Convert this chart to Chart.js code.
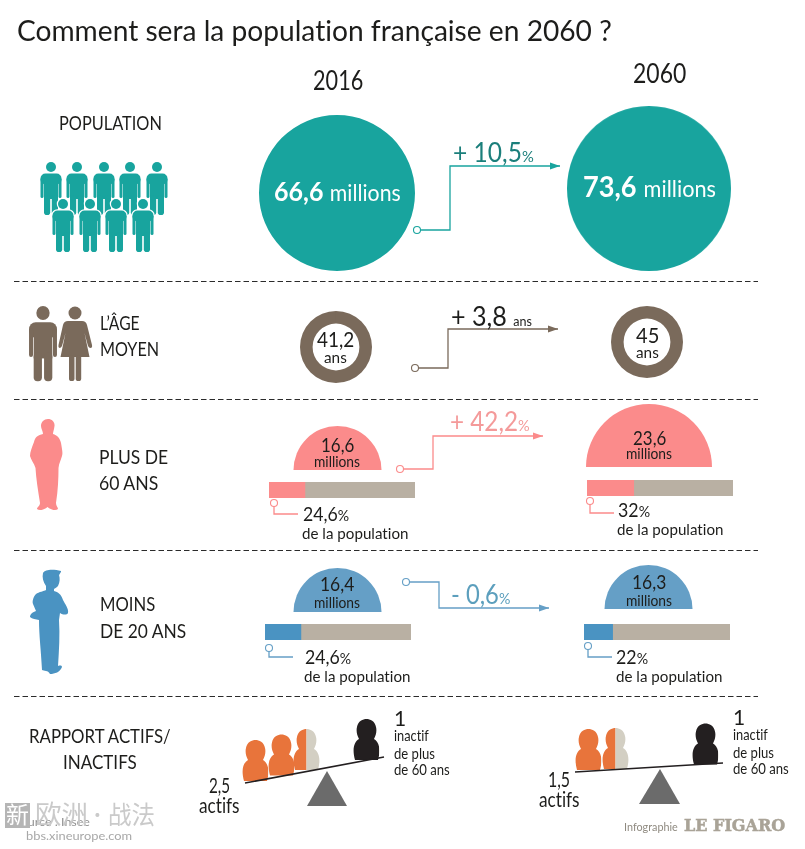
<!DOCTYPE html>
<html lang="fr">
<head>
<meta charset="utf-8">
<title>Comment sera la population française en 2060 ?</title>
<script src="https://cdn.jsdelivr.net/npm/chart.js@4"></script>
<style>
    html, body { margin: 0; padding: 0; background: #fff; }
    #page { position: relative; width: 805px; height: 849px; overflow: hidden; font-family: Lato, sans-serif; color: #1d1d1b; font-variant-ligatures: none; }
    #page canvas { position: absolute; }
    #page svg { position: absolute; left: 0; top: 0; }
    .t { position: absolute; white-space: nowrap; line-height: 1; transform-origin: left center; z-index: 5; }
    .t small { font-size: 0.6em; }
</style>
</head>
<body>
<div id="page"></div>
<script>
// ─── Data ─────────────────────────────────────────────────
const years = ['2016', '2060'];
const populationMillions = [66.6, 73.6];
const populationChange = 10.5;
const medianAge = [41.2, 45];
const medianAgeChange = 3.8;
const over60Millions = [16.6, 23.6];
const over60Share = [24.6, 32];
const over60Change = 42.2;
const under20Millions = [16.4, 16.3];
const under20Share = [24.6, 22];
const under20BarLength = [24.6, 19.6];   // longueur réellement dessinée sur l'infographie
const under20Change = -0.6;
const activesPerInactive = [2.5, 1.5];
const inactives = [1, 1];

const C = {
    teal: '#18a49e', tealDark: '#1b7f7b', brown: '#7a6a5b', pink: '#fb8b8b', pinkText: '#f49a9a',
    blue: '#659fc6', blueBar: '#4a93c2', blueText: '#5c9fbd', beige: '#b9b0a3',
    orange: '#e8743b', ghost: '#d3cfc3', ink: '#231f20', grey: '#6b6b6b'
};

const page = document.getElementById('page');
const num = (v) => String(v).replace('.', ',');

// ─── Helpers ──────────────────────────────────────────────
function addText(html, x, y, size, o = {}) {
    const el = document.createElement('div');
    el.className = 't';
    el.innerHTML = html;
    el.style.fontSize = size + 'px';
    el.style.top = (y - size * 0.57) + 'px';
    el.style.color = o.color || '#1d1d1b';
    if (o.font) el.style.fontFamily = o.font;
    if (o.weight) el.style.fontWeight = o.weight;
    page.appendChild(el);
    let width = el.offsetWidth;
    if (o.w) {
        el.style.transform = `scaleX(${o.w / width})`;
        width = o.w;
    }
    el.style.left = (o.center ? x - width / 2 : x) + 'px';
    return el;
}

function addCanvas(x, y, w, h) {
    const c = document.createElement('canvas');
    c.width = w; c.height = h;
    c.style.left = x + 'px'; c.style.top = y + 'px';
    c.style.width = w + 'px'; c.style.height = h + 'px';
    page.appendChild(c);
    return c;
}

const baseOptions = {
    responsive: false,
    animation: false,
    layout: { padding: 0 },
    plugins: { legend: { display: false }, tooltip: { enabled: false } }
};

function disc(value, cx, cy, r, color, cutout) {
    new Chart(addCanvas(cx - r, cy - r, r * 2, r * 2), {
        type: 'doughnut',
        data: { labels: ['valeur'], datasets: [{ data: [value], backgroundColor: color, borderWidth: 0 }] },
        options: { ...baseOptions, cutout: cutout || 0 }
    });
}

function dome(value, cx, base, r, color) {
    new Chart(addCanvas(cx - r, base - r, r * 2, r), {
        type: 'doughnut',
        data: { labels: ['valeur'], datasets: [{ data: [value], backgroundColor: color, borderWidth: 0 }] },
        options: { ...baseOptions, cutout: 0, rotation: -90, circumference: 180 }
    });
}

function shareBar(share, x, y, color) {
    new Chart(addCanvas(x, y, 146, 16), {
        type: 'bar',
        data: {
            labels: ['population'],
            datasets: [
                { data: [share], backgroundColor: color, borderWidth: 0, barPercentage: 1, categoryPercentage: 1 },
                { data: [100 - share], backgroundColor: C.beige, borderWidth: 0, barPercentage: 1, categoryPercentage: 1 }
            ]
        },
        options: {
            ...baseOptions,
            indexAxis: 'y',
            scales: {
                x: { display: false, stacked: true, min: 0, max: 100 },
                y: { display: false, stacked: true }
            }
        }
    });
}

// ─── Charts ───────────────────────────────────────────────
const popRadius = (v) => 9.56 * Math.sqrt(v);
disc(populationMillions[0], 337, 193, popRadius(populationMillions[0]), C.teal);
disc(populationMillions[1], 649, 188.5, popRadius(populationMillions[1]), C.teal);

disc(medianAge[0], 335.5, 346.5, 36, C.brown, '65%');
disc(medianAge[1], 646.5, 341.5, 36, C.brown, '65%');

dome(over60Millions[0], 337.5, 470, 44.5, C.pink);
dome(over60Millions[1], 649, 467, 63, C.pink);
dome(under20Millions[0], 337.5, 612, 44.5, C.blue);
dome(under20Millions[1], 648.5, 609, 44.5, C.blue);

shareBar(over60Share[0], 269, 482, C.pink);
shareBar(over60Share[1], 587, 480, C.pink);
shareBar(under20BarLength[0], 265, 624, C.blueBar);
shareBar(under20BarLength[1], 584, 624, C.blueBar);

// ─── Pictos, séparateurs et flèches ───────────────────────
function man(x, y, k, kx, fill) {
    return `<g transform="translate(${x} ${y}) scale(${kx} ${k})" fill="${fill}">
        <circle r="5"/>
        <rect x="-10.5" y="6.5" width="21" height="11" rx="5"/>
        <rect x="-7" y="8" width="14" height="24"/>
        <rect x="-10.5" y="11" width="3" height="20" rx="1.5"/>
        <rect x="7.5" y="11" width="3" height="20" rx="1.5"/>
        <rect x="-7" y="28" width="6.2" height="20" rx="2.8"/>
        <rect x="0.8" y="28" width="6.2" height="20" rx="2.8"/>
    </g>`;
}

function elbow(points, color, head) {
    let s = `<polyline points="${points.map(p => p.join(',')).join(' ')}" fill="none" stroke="${color}" stroke-width="1.3"/>`;
    const [cx, cy] = points[0];
    s += `<circle cx="${cx}" cy="${cy}" r="3.5" fill="#fff" stroke="${color}" stroke-width="1.1"/>`;
    if (head) {
        const [hx, hy] = points[points.length - 1];
        s += `<polygon points="${hx - 10},${hy - 3.5} ${hx},${hy} ${hx - 10},${hy + 3.5}" fill="${color}"/>`;
    }
    return s;
}

function blob(x, bottom, fraction, fill, id) {
    const shape = `M1,41 C-2,30 0,23 5,20 C3,16 2,12 3,8 C4,2 9,0 12.5,0 C16,0 21,2 22,8 C23,12 22,16 20,20 C25,23 27,30 24,41 Z`;
    const split = 25 * fraction;
    return `<g transform="translate(${x} ${bottom - 41})">
        <clipPath id="${id}a"><rect x="-2" y="-1" width="${split + 2}" height="44"/></clipPath>
        <clipPath id="${id}b"><rect x="${split}" y="-1" width="${27 - split}" height="44"/></clipPath>
        <path d="${shape}" fill="${fill}" clip-path="url(#${id}a)"/>
        <path d="${shape}" fill="${C.ghost}" clip-path="url(#${id}b)"/>
    </g>`;
}

let svg = '';
[281.5, 399.5, 550.5, 696.5].forEach(y => {
    svg += `<line x1="14" x2="758" y1="${y}" y2="${y}" stroke="#2b2b2b" stroke-width="1" stroke-dasharray="5.5 3"/>`;
});

[51, 77, 104, 130, 157].forEach(x => { svg += man(x, 167, 1, 1, C.teal); });
[63, 90, 116, 143].forEach(x => {
    svg += `<g stroke="#fff" stroke-width="2.4" paint-order="stroke">${man(x, 204, 1, 1, '#fff')}</g>`;
    svg += man(x, 204, 1, 1, C.teal);
});

svg += man(43, 313, 1.42, 1.33, C.brown);
svg += `<g fill="${C.brown}">
    <circle cx="75" cy="313" r="6.5"/>
    <path d="M68,321 H82 Q86,321 87,325 L92,345 Q92.5,348 90.5,348 Q89,348 88,346 L84.5,333 L89.5,357 H60.5 L65.5,333 L62,346 Q61,348 59.5,348 Q58,347.5 58.5,345 L63,325 Q64,321 68,321 Z"/>
    <rect x="69" y="355" width="5.5" height="26" rx="2.6"/>
    <rect x="75.7" y="355" width="5.5" height="26" rx="2.6"/>
</g>`;

svg += `<path fill="${C.pink}" d="M48,419 C52,419 55,422 54.5,426 C54,430 53,432 53,434 C57,435 60,438 61,443 C62,449 63,453 62,456 C61,460 59,463 58.5,468 C58.5,478 58,490 56,503 C56,506 58,507 58,509 C56,511 51,510 47.5,507 C44,510 39,511 37,509 C37,507 40,506 40,503 C38,490 36,478 35.5,468 C34,463 31,460 30,456 C30,452 32,447 34,442 C35,437 38,435 43,434 C43,431 41,429 41,426 C41,422 44,419 48,419 Z"/>`;

svg += `<path fill="${C.blueBar}" d="M43,573 C45,569 54,569 61,571 L61,572 C60,573 60,574 59,575 C60,578 60,582 58,586 C56,588 55,588 54,589 L54,591 C58,592 61,594 63,600 C65,604 69,609 68,613 C67,615 63,615 60,613 L59,620 C60,635 59,650 58,666 C61,665 62,666 62,667 C60,672 55,674 50,674 C48,670 44,671 42,670 C41,650 39,635 39,620 C36,619 32,619 30,617 C30,614 33,612 36,611 L33,604 C32,602 33,597 36,594 C39,592 44,591 46,590 L46,586 C43,582 42,577 43,573 Z"/>`;

svg += elbow([[417, 230], [450, 230], [450, 166], [560, 166]], C.teal, true);
svg += elbow([[415, 368], [448, 368], [448, 329], [558, 329]], C.brown, true);
svg += elbow([[400, 469], [433, 469], [433, 436], [543, 436]], C.pink, true);
svg += elbow([[406, 582], [439, 582], [439, 608], [549, 608]], C.blue, true);
svg += elbow([[274, 503], [274, 514], [298, 514]], C.pink);
svg += elbow([[590, 501], [590, 513], [614, 513]], C.pink);
svg += elbow([[269, 648], [269, 657], [293, 657]], C.blue);
svg += elbow([[588, 646], [588, 657], [612, 657]], C.blue);

// balances : un personnage par actif, le dernier rempli selon la fraction
const balanceLeft = [[243, 781], [269, 775.5], [294, 770]];
const balanceRight = [[576, 770], [603, 769]];
[balanceLeft, balanceRight].forEach((spots, b) => {
    spots.forEach(([x, bottom], i) => {
        const fraction = Math.min(1, activesPerInactive[b] - i);
        svg += blob(x, bottom, fraction, C.orange, `p${b}${i}`);
    });
});
svg += blob(354, 760, inactives[0], C.ink, 'i0');
svg += blob(693, 764.5, inactives[1], C.ink, 'i1');
svg += `<line x1="245" y1="783" x2="384" y2="757" stroke="${C.ink}" stroke-width="1.6"/>`;
svg += `<line x1="575" y1="772" x2="723" y2="763" stroke="${C.ink}" stroke-width="1.6"/>`;
svg += `<polygon points="327,771 347,806 307,806" fill="${C.grey}"/>`;
svg += `<polygon points="660,769 680,804 639,804" fill="${C.grey}"/>`;

page.insertAdjacentHTML('beforeend', `<svg width="805" height="849" viewBox="0 0 805 849">${svg}</svg>`);

// ─── Texte ────────────────────────────────────────────────
const signed = (v) => (v > 0 ? '+ ' : '- ') + num(Math.abs(v));
const tCJK = '"Noto Sans CJK SC", sans-serif';

addText('Comment sera la population française en 2060 ?', 17, 32, 28, { w: 595 });
addText(years[0], 313, 82, 26, { w: 50 });
addText(years[1], 633, 75, 26, { w: 53 });

addText('POPULATION', 59, 123, 20, { w: 103 });
addText('L’ÂGE', 100, 323, 20, { w: 40 });
addText('MOYEN', 100, 349, 20, { w: 59 });
addText('PLUS DE', 99, 457, 20, { w: 69 });
addText('60 ANS', 99, 483, 20, { w: 59 });
addText('MOINS', 100, 604, 20, { w: 55 });
addText('DE 20 ANS', 100, 631, 20, { w: 86 });
addText('RAPPORT ACTIFS/', 29, 736, 20, { w: 142 });
addText('INACTIFS', 63, 762, 20, { w: 74 });

addText(`<b>${num(populationMillions[0])}</b> <span style="font-size:.85em">millions</span>`, 274, 192, 27, { w: 127, color: '#fff' });
addText(`<b>${num(populationMillions[1])}</b> <span style="font-size:.8em">millions</span>`, 583, 188, 29, { w: 133, color: '#fff' });
addText(`${signed(populationChange)}<small>%</small>`, 453, 153, 27, { w: 81, color: C.tealDark });

addText(`${signed(medianAgeChange)} <small style="font-size:.5em">ans</small>`, 451, 317, 27, { w: 81 });
addText(num(medianAge[0]), 335, 340, 21, { center: true, w: 37 });
addText('ans', 335, 358, 16, { center: true, w: 23 });
addText(num(medianAge[1]), 647, 336, 21, { center: true, w: 23 });
addText('ans', 647, 353, 16, { center: true, w: 23 });

addText(num(over60Millions[0]), 337, 445, 20, { center: true, w: 33 });
addText('millions', 337, 463, 15, { center: true, w: 46 });
addText(num(over60Millions[1]), 649, 438, 20, { center: true, w: 33 });
addText('millions', 649, 455, 15, { center: true, w: 46 });
addText(`${signed(over60Change)}<small>%</small>`, 450, 422, 27, { w: 80, color: C.pinkText });

addText(num(under20Millions[0]), 337, 584, 20, { center: true, w: 34 });
addText('millions', 337, 604, 15, { center: true, w: 46 });
addText(num(under20Millions[1]), 649, 582, 20, { center: true, w: 34 });
addText('millions', 649, 602, 15, { center: true, w: 46 });
addText(`${signed(under20Change)}<small>%</small>`, 451, 595, 27, { w: 59, color: C.blueText });

const shareLines = [
    [over60Share[0], 303, 514, 302, 534, 46],
    [over60Share[1], 618, 510, 617, 530, 32],
    [under20Share[0], 305, 657, 304, 677, 46],
    [under20Share[1], 616, 657, 616, 677, 32]
];
shareLines.forEach(([v, x1, y1, x2, y2, w]) => {
    addText(`${num(v)}<small style="font-size:.8em">%</small>`, x1, y1, 20, { w });
    addText('de la population', x2, y2, 16, { w: 106 });
});

addText(num(activesPerInactive[0]), 209, 786, 21, { w: 21 });
addText('actifs', 199, 806, 21, { w: 41 });
addText(num(activesPerInactive[1]), 548, 780, 21, { w: 22 });
addText('actifs', 539, 800, 21, { w: 41 });

[[394, 719], [733, 718]].forEach(([x, y], i) => {
    addText(String(inactives[i]), x, y, 21);
    addText('inactif', x, y + 18, 15, { w: 35 });
    addText('de plus', x, y + 36, 15, { w: 41 });
    addText('de 60 ans', x, y + 52, 15, { w: 56 });
});

addText('Source : Insee', 14, 822, 11, { w: 76, color: '#8f8f8f' });
addText('Infographie', 624, 828, 12, { w: 54, color: '#8f8a80' });
const figaro = addText('LE FIGARO', 684, 827, 16, { w: 101, color: '#a9a397', font: '"DejaVu Serif", serif', weight: 'bold' });
figaro.style.webkitTextStroke = '0.5px #a9a397';

// filigrane du forum
page.insertAdjacentHTML('beforeend', '<div style="position:absolute;left:5px;top:803px;width:25px;height:25px;background:#b5b5b5;z-index:6"></div>');
const wm = addText('新', 6, 815, 23, { color: '#fff', font: tCJK });
wm.style.zIndex = 7;
addText('欧洲', 35, 815, 26, { w: 53, color: '#cacaca', font: tCJK });
addText('·', 94, 815, 26, { color: '#cacaca' });
addText('战法', 108, 815, 25, { w: 47, color: '#cacaca', font: tCJK });
addText('bbs.xineurope.com', 26, 837, 12, { w: 106, color: '#a8a8a8' });
</script>
</body>
</html>
